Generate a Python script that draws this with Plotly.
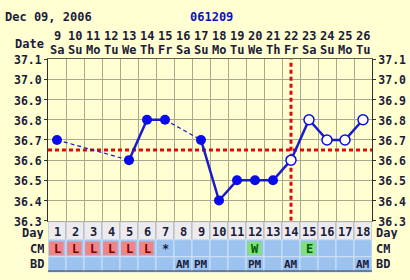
import plotly.graph_objects as go

# ---------------- data ----------------
title_date = "Dec 09, 2006"
chart_id = "061209"
days = list(range(1, 19))
dates = [9, 10, 11, 12, 13, 14, 15, 16, 17, 18, 19, 20, 21, 22, 23, 24, 25, 26]
weekdays = ["Sa", "Su", "Mo", "Tu", "We", "Th", "Fr", "Sa", "Su", "Mo",
            "Tu", "We", "Th", "Fr", "Sa", "Su", "Mo", "Tu"]
temps = [36.7, None, None, None, 36.6, 36.8, 36.8, None, 36.7, 36.4,
         36.5, 36.5, 36.5, 36.6, 36.8, 36.7, 36.7, 36.8]
cm = ["L", "L", "L", "L", "L", "L", "*", "", "", "", "", "W", "", "", "E", "", "", ""]
bd = ["", "", "", "", "", "", "", "AM", "PM", "", "", "PM", "", "AM", "", "", "", "AM"]
coverline = 36.65
ovulation_day = 14
y_ticks = [36.3, 36.4, 36.5, 36.6, 36.7, 36.8, 36.9, 37.0, 37.1]

# ---------------- style ----------------
W, H = 410, 280
BG = "#ffffd2"
GRID = "#a9a98f"
FONT = "DejaVu Sans Mono"
TXT = "#1c1c3a"
BLUE_CELL = "#9cc3ef"
GRAY_CELL = "#ececf0"
PINK = "#ef8585"
GREEN = "#7fe07f"
LINE_BLUE = "#1a1ac8"
MARK_BLUE = "#0a0aee"
RED = "#dd0a0a"

PX_L, PX_R = 48, 372
PY_T, PY_B = 56, 226


def py(y):  # pixel y from top -> paper
    return 1 - y / H


def px(x):
    return x / W


fig = go.Figure()

# coverline and ovulation line (drawn under the data)
fig.add_trace(go.Scatter(x=[0.5, 18.5], y=[coverline, coverline], mode="lines",
                         line=dict(color=RED, width=3, dash="4px,3px"),
                         hoverinfo="skip", showlegend=False))
fig.add_trace(go.Scatter(x=[ovulation_day, ovulation_day], y=[y_ticks[0], y_ticks[-1]],
                         mode="lines", line=dict(color=RED, width=3, dash="4px,3px"),
                         hoverinfo="skip", showlegend=False))

# connecting lines: solid for consecutive days, dashed across gaps
sx, sy, dx, dy = [], [], [], []
valid = [i for i, t in enumerate(temps) if t is not None]
for a, b in zip(valid[:-1], valid[1:]):
    if b == a + 1:
        sx += [days[a], days[b], None]
        sy += [temps[a], temps[b], None]
    else:
        dx += [days[a], days[b], None]
        dy += [temps[a], temps[b], None]
fig.add_trace(go.Scatter(x=dx, y=dy, mode="lines",
                         line=dict(color=LINE_BLUE, width=1.2, dash="4px,3px"),
                         hoverinfo="skip", showlegend=False))
fig.add_trace(go.Scatter(x=sx, y=sy, mode="lines",
                         line=dict(color=LINE_BLUE, width=2.5),
                         hoverinfo="skip", showlegend=False))

# markers: filled before ovulation, open from ovulation day on
fx = [d for d, t in zip(days, temps) if t is not None and d < ovulation_day]
fy = [t for d, t in zip(days, temps) if t is not None and d < ovulation_day]
ox = [d for d, t in zip(days, temps) if t is not None and d >= ovulation_day]
oy = [t for d, t in zip(days, temps) if t is not None and d >= ovulation_day]
fig.add_trace(go.Scatter(x=fx, y=fy, mode="markers",
                         marker=dict(size=10, color=MARK_BLUE, line=dict(width=0)),
                         showlegend=False))
fig.add_trace(go.Scatter(x=ox, y=oy, mode="markers",
                         marker=dict(size=10, color="#ffffff",
                                     line=dict(width=1.5, color=MARK_BLUE)),
                         showlegend=False))
# dummy trace for right axis
fig.add_trace(go.Scatter(x=[1], y=[y_ticks[0]], yaxis="y2", mode="markers",
                         marker=dict(opacity=0), hoverinfo="skip", showlegend=False))

tick_text = [f"{v:.1f}" for v in y_ticks]
tfont = dict(family=FONT, size=11.5, color=TXT, weight="bold")

fig.update_layout(
    width=W, height=H,
    margin=dict(l=0, r=0, t=0, b=0),
    paper_bgcolor=BG, plot_bgcolor=BG,
    xaxis=dict(domain=[px(PX_L), px(PX_R)], range=[0.5, 18.5],
               tickvals=[d - 0.5 for d in days] + [18.5], showticklabels=False,
               ticks="", showgrid=True, gridcolor=GRID, gridwidth=1,
               zeroline=False, showline=True, linecolor="#60604c", linewidth=1,
               mirror=True, fixedrange=True),
    yaxis=dict(domain=[py(PY_B), py(PY_T)], range=[y_ticks[0], y_ticks[-1]],
               tickvals=y_ticks, ticktext=tick_text, tickfont=tfont,
               ticks="outside", ticklen=3, tickcolor="#303030", ticklabelshift=1,
               showgrid=True, gridcolor=GRID, gridwidth=1, zeroline=False,
               showline=True, linecolor="#303030", linewidth=1, fixedrange=True),
    yaxis2=dict(overlaying="y", side="right", range=[y_ticks[0], y_ticks[-1]],
                tickvals=y_ticks, ticktext=tick_text, tickfont=tfont,
                ticks="outside", ticklen=3, tickcolor="#303030", ticklabelshift=1,
                showgrid=False, zeroline=False, showline=True,
                linecolor="#303030", linewidth=1, fixedrange=True),
)

ann = []
shapes = []
hfont = dict(family=FONT, size=12, color=TXT, weight="bold")

ann.append(dict(x=px(3), y=py(12), xref="paper", yref="paper", text=title_date,
                showarrow=False, xanchor="left", yanchor="middle", font=hfont))
ann.append(dict(x=px(211), y=py(12), xref="paper", yref="paper", text=chart_id,
                showarrow=False, xanchor="center", yanchor="middle",
                font=dict(family=FONT, size=12, color="#1010c0", weight="bold")))
ann.append(dict(x=px(46), y=py(40), xref="paper", yref="paper", text="Date",
                showarrow=False, xanchor="right", yanchor="middle", font=hfont))
for d, dt, wd in zip(days, dates, weekdays):
    ann.append(dict(x=d, y=py(32), xref="x", yref="paper", text=str(dt),
                    showarrow=False, xanchor="center", yanchor="middle", font=hfont))
    ann.append(dict(x=d, y=py(46), xref="x", yref="paper", text=wd,
                    showarrow=False, xanchor="center", yanchor="middle", font=hfont))

# bottom rows: (name, top px, bottom px, text centre px)
rows = [("Day", 227, 246, 238.5), ("CM", 246, 264, 255.5), ("BD", 264, 280, 272)]
for name, y0, y1, yc in rows:
    ymid = py(yc)
    for xa, anch in ((px(45), "right"), (px(375), "left")):
        ann.append(dict(x=xa, y=ymid, xref="paper", yref="paper", text=name,
                        showarrow=False, xanchor=anch, yanchor="middle",
                        height=12, borderpad=0, valign="middle", font=hfont))
    fill = GRAY_CELL if name == "Day" else BLUE_CELL
    border = "#b4b4b8" if name == "Day" else "#cfe2f7"
    for d in days:
        shapes.append(dict(type="rect", xref="x", yref="paper",
                           x0=d - 0.5, x1=d + 0.5, y0=py(y1), y1=py(y0),
                           fillcolor=fill, line=dict(color=border, width=1),
                           layer="above"))
# bottom border line
shapes.append(dict(type="line", xref="paper", yref="paper", x0=px(PX_L), x1=px(PX_R),
                   y0=py(279), y1=py(279), line=dict(color="#303040", width=1)))

for d in days:
    ann.append(dict(x=d, y=py(238), xref="x", yref="paper", text=str(d),
                    showarrow=False, xanchor="center", yanchor="middle", font=hfont))

for d, c in zip(days, cm):
    if c in ("L", "W", "E"):
        col = PINK if c == "L" else GREEN
        tcol = "#7a0000" if c == "L" else "#005a00"
        shapes.append(dict(type="rect", xref="x", yref="paper",
                           x0=d - 0.44, x1=d + 0.36, y0=py(262), y1=py(248),
                           fillcolor=col, line=dict(width=0), layer="above"))
        ann.append(dict(x=d, y=py(255.5), xref="x", yref="paper", text=c,
                        showarrow=False, xanchor="center", yanchor="middle",
                        font=dict(family=FONT, size=12, color=tcol, weight="bold")))
    elif c:
        ann.append(dict(x=d, y=py(255.5), xref="x", yref="paper", text=c,
                        showarrow=False, xanchor="center", yanchor="middle", font=hfont))

for d, b in zip(days, bd):
    if b:
        ann.append(dict(x=d, y=py(272), xref="x", yref="paper", text=b,
                        showarrow=False, xanchor="center", yanchor="middle",
                        font=dict(family=FONT, size=11, color=TXT, weight="bold")))

fig.update_layout(annotations=ann, shapes=shapes)
fig.write_html("out.html")
